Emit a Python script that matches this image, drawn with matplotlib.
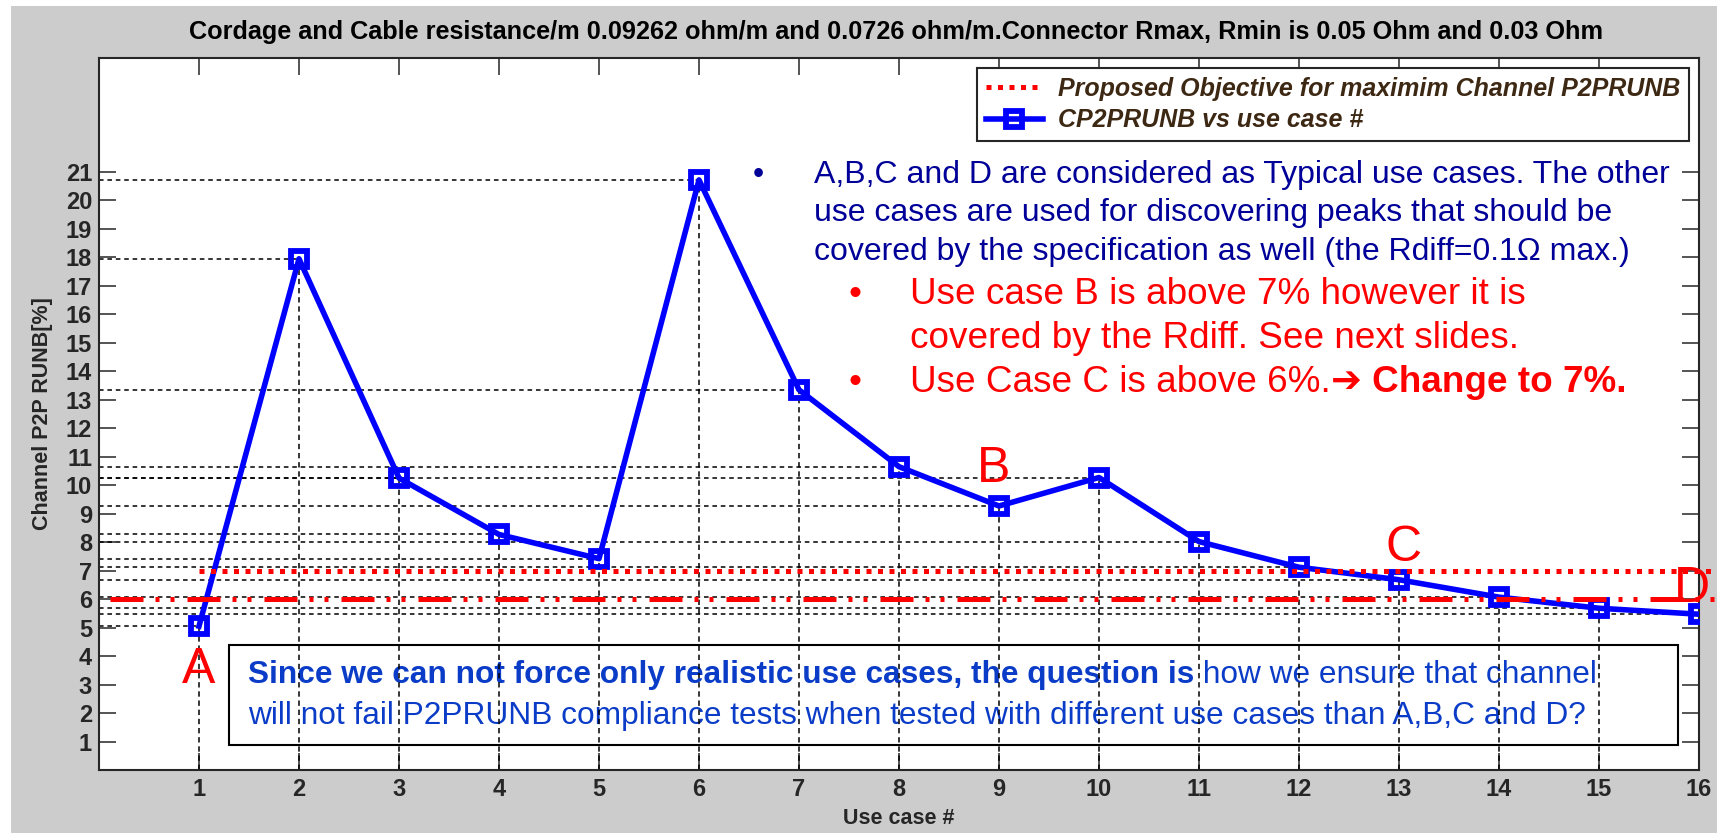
import numpy as np
import matplotlib
matplotlib.use("Agg")
import matplotlib.pyplot as plt
from matplotlib.patches import Rectangle

plt.rcParams['font.family'] = ['Liberation Sans', 'DejaVu Sans']

# =================== DADOS ===================
use_case = np.arange(1, 17)
p2prunb = [5.05, 17.95, 10.25, 8.27, 7.42, 20.72, 13.35, 10.65,
           9.27, 10.27, 8.02, 7.12, 6.68, 6.07, 5.68, 5.47]
objetivo = 7.0
limite_c = 6.0
xticks = list(range(1, 17))
yticks = list(range(1, 22))
letras = ["A", "B", "C", "D"]
letras_x = [1.0, 8.95, 13.05, 15.93]
letras_y = [3.04, 10.1, 7.33, 5.89]

titulo = ("Cordage and Cable resistance/m 0.09262 ohm/m and 0.0726 ohm/m."
          "Connector Rmax, Rmin is 0.05 Ohm and 0.03 Ohm")
texto_azul = ["A,B,C and D are considered as Typical use cases. The other",
              "use cases are used for discovering peaks that should be",
              "covered by the specification as well (the Rdiff=0.1\u03a9 max.)"]
texto_vermelho = ["Use case B is above 7% however it is",
                  "covered by the Rdiff. See next slides.",
                  "Use Case C is above 6%."]
texto_negrito = "\u2794 Change to 7%."
caixa_l1_negrito = "Since we can not force only realistic use cases, the question is"
caixa_l1 = " how we ensure that channel"
caixa_l2 = ("will not fail P2PRUNB compliance tests when tested with different "
            "use cases than A,B,C and D?")

W, H = 1717, 833
AZUL_ESCURO = '#000099'
AZUL_CAIXA = '#0a3cc8'
EIXO = '#262626'


def fxy(x, y):
    """pixel (origem em cima a esquerda) -> fracao da figura"""
    return x / W, 1 - y / H


fig = plt.figure(figsize=(W / 100, H / 100), dpi=100, facecolor='white')
fig.add_artist(Rectangle(fxy(11, 833), (W - 11) / W, (833 - 6) / H,
                         transform=fig.transFigure, facecolor='#cccccc',
                         edgecolor='none', zorder=-10))

l, b = fxy(99, 770)
ax = fig.add_axes([l, b, 1600 / W, (770 - 58) / H])
ax.set_facecolor('white')
ax.set_xlim(0, 16)
ax.set_ylim(0, 25)

# linhas de referencia pontilhadas/tracejadas ate cada ponto
ax.vlines(use_case, 0, p2prunb, colors='black', linewidth=1.1,
          linestyles=(0, (3.5, 2.5)), zorder=2)
ax.hlines(p2prunb, 0, use_case, colors='black', linewidth=1.1,
          linestyles=(0, (3, 2.5)), zorder=2)

ax.plot(use_case, p2prunb, color='blue', linewidth=4, marker='s',
        markersize=11.5, markeredgewidth=4.2, markerfacecolor='none',
        label='CP2PRUNB vs use case #', zorder=3)
ax.plot([1, 16.15], [objetivo, objetivo], color='red', linewidth=3.6,
        linestyle=(0, (1, 1.3)), clip_on=False, zorder=4,
        label='Proposed Objective for maximim Channel P2PRUNB')
ax.plot([0.11, 16.18], [limite_c, limite_c], color='red', linewidth=3.6,
        linestyle=(0, (6.6, 2.4, 0.8, 2.2, 0.8, 2.6)), clip_on=False,
        zorder=4)

for txt, x, y in zip(letras, letras_x, letras_y):
    ax.text(x, y, txt, color='red', fontsize=36, ha='center', va='baseline',
            zorder=5, clip_on=False)

# eixos no estilo MATLAB
ax.set_xticks(xticks)
ax.set_yticks(yticks)
ax.tick_params(direction='in', length=12, width=1.1, top=True, right=True,
               labelsize=17, colors=EIXO, pad=6)
ax.tick_params(axis='y', pad=5)
for lab in ax.get_xticklabels() + ax.get_yticklabels():
    lab.set_fontweight('bold')
for sp in ax.spines.values():
    sp.set_linewidth(1.5)
    sp.set_color(EIXO)
ax.set_xlabel('Use case #', fontsize=15.5, fontweight='bold', color=EIXO,
              labelpad=5)
ax.set_ylabel('Channel P2P RUNB[%]', fontsize=15.5, fontweight='bold',
              color=EIXO, labelpad=9)
fig.text(*fxy(896, 32), titulo, fontsize=18.2, fontweight='bold',
         color='black', ha='center', va='center')

handles, labels = ax.get_legend_handles_labels()
leg = ax.legend(handles[::-1], labels[::-1], loc='upper right',
                prop={'size': 18, 'style': 'italic', 'weight': 'bold'},
                fancybox=False, framealpha=1, edgecolor=EIXO,
                borderaxespad=0.4, handlelength=2.3, handletextpad=0.6,
                labelspacing=0.3, borderpad=0.35, numpoints=1)
leg.get_frame().set_linewidth(1.5)
for t in leg.get_texts():
    t.set_color('#3d2814')
leg.set_zorder(10)

# texto de bullets
ax.text(*fxy(758, 183), "\u2022", color=AZUL_ESCURO, fontsize=23,
        ha='center', va='baseline', transform=fig.transFigure, zorder=6)
for i, linha in enumerate(texto_azul):
    ax.text(*fxy(814, 183 + 38.5 * i), linha, color=AZUL_ESCURO,
            fontsize=23, va='baseline', transform=fig.transFigure, zorder=6)
for i, linha in enumerate(texto_vermelho):
    yb = 304 + 44 * i
    if i != 1:
        ax.text(*fxy(855, yb), "\u2022", color='red', fontsize=26.6,
                ha='center', va='baseline', transform=fig.transFigure,
                zorder=6)
    t = ax.text(*fxy(910, yb), linha, color='red', fontsize=26.6,
                va='baseline', transform=fig.transFigure, zorder=6)
ax.annotate(texto_negrito, xy=(1, 0), xycoords=t, va='bottom', ha='left',
            color='red', fontsize=26.6, fontweight='bold', zorder=6,
            annotation_clip=False)

# caixa de pergunta
x0, y0 = fxy(228.5, 745)
ax.add_patch(Rectangle((x0, y0), (1677.5 - 228.5) / W, 100 / H,
                       transform=fig.transFigure, facecolor='white',
                       edgecolor='black', linewidth=1.5, clip_on=False,
                       zorder=1))
t1 = ax.text(*fxy(248, 683), caixa_l1_negrito, color=AZUL_CAIXA,
             fontsize=22.8, fontweight='bold', va='baseline',
             transform=fig.transFigure, zorder=1.5)
ax.annotate(caixa_l1, xy=(1, 0), xycoords=t1, va='bottom', ha='left',
            color=AZUL_CAIXA, fontsize=22.8, zorder=1.5,
            annotation_clip=False)
ax.text(*fxy(248, 724), caixa_l2, color=AZUL_CAIXA, fontsize=22.8,
        va='baseline', transform=fig.transFigure, zorder=1.5)

fig.savefig('out.png', dpi=100, facecolor=fig.get_facecolor())
plt.close(fig)
